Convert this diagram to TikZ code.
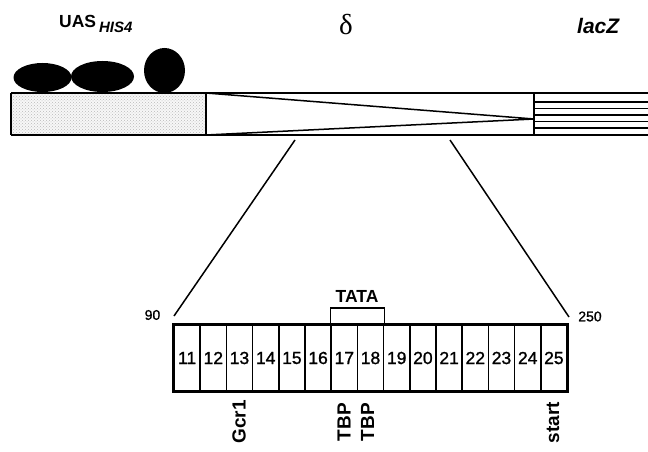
\documentclass[tikz,border=0pt]{standalone}
\usepackage{fontspec}
\setmainfont{Liberation Sans}
\newfontfamily\serifgreek{Liberation Serif}
\newfontfamily\numfont[FakeBold=1.2]{Liberation Sans}
\usetikzlibrary{patterns}
\tikzset{
  thick line/.style={line width=2pt},
  thin line/.style={line width=1.5pt},
  cell/.style={draw, line width=1.6pt, minimum width=26.2pt, minimum height=66pt, inner sep=0pt, font=\numfont\fontsize{17.5}{17.5}\selectfont},
  vlab/.style={rotate=90, anchor=east, inner sep=0pt, font=\fontsize{19}{19}\selectfont\bfseries},
  numlab/.style={inner sep=0pt, font=\numfont\fontsize{14}{14}\selectfont},
}
\begin{document}
\begin{tikzpicture}[x=1pt,y=-1pt]
\useasboundingbox (0,0) rectangle (648,452);
% labels on top
\node[anchor=base west, inner sep=0pt] (uas) at (59,28) {\fontsize{17.5}{17.5}\selectfont\bfseries UAS\,\raisebox{-5pt}{\fontsize{15}{15}\selectfont\bfseries\itshape HIS4}};
\node[inner sep=0pt] (delta) at (346,25) {\serifgreek\fontsize{29}{29}\selectfont δ};
\node[anchor=base west, inner sep=0pt] (lacz) at (577,34) {\fontsize{21}{21}\selectfont\bfseries\itshape lacZ};
% proteins
\fill (42.5,77.5) ellipse [x radius=29, y radius=14.5];
\fill (102.5,76.5) ellipse [x radius=31.5, y radius=15.5];
\fill (164.5,70.5) ellipse [x radius=20.5, y radius=22.5];
% bar
\fill[gray!6] (11,93) rectangle (206,135);
\fill[pattern=crosshatch dots, pattern color=gray!55] (11,93) rectangle (206,135);
\foreach \yy in {102,108.5,115,121.5,128} \draw[line width=1.1pt] (534,\yy) -- (648,\yy);
\draw[thin line] (206,93) -- (534,119) -- (206,135);
\draw[thick line] (11,93) -- (648,93) (11,135) -- (648,135) (11,93) -- (11,135);
\draw[thin line] (206,93) -- (206,135) (534,93) -- (534,135);
% zoom lines
\coordinate (zl) at (295,140);
\coordinate (zr) at (450,140);
\coordinate (bl) at (174,316);
\coordinate (br) at (569,317);
\draw[thin line] (zl) -- (bl);
\draw[thin line] (zr) -- (br);
% cells
\foreach \n [count=\i from 0] in {11,...,25}
  \node[cell] (c\n) at ({174+26.2*\i+13.1},358) {\n};
\draw[thick line] (c11.north west) rectangle (c25.south east);
% TATA bracket
\draw[thin line] (c17.north west) -- ++(0,-16) -| (c18.north east);
\node[inner sep=0pt, font=\fontsize{17.5}{17.5}\selectfont\bfseries] (tata) at (357,296) {TATA};
% end numbers
\node[numlab] (n90) at (152.5,315) {90};
\node[numlab] (n250) at (590,316.5) {250};
% bottom labels
\node[vlab] (gcr) at (239,400) {Gcr1};
\node[vlab] (tbp1) at (344,403) {TBP};
\node[vlab] (tbp2) at (367.5,403) {TBP};
\node[vlab] (start) at (553,402) {start};
\end{tikzpicture}
\end{document}
